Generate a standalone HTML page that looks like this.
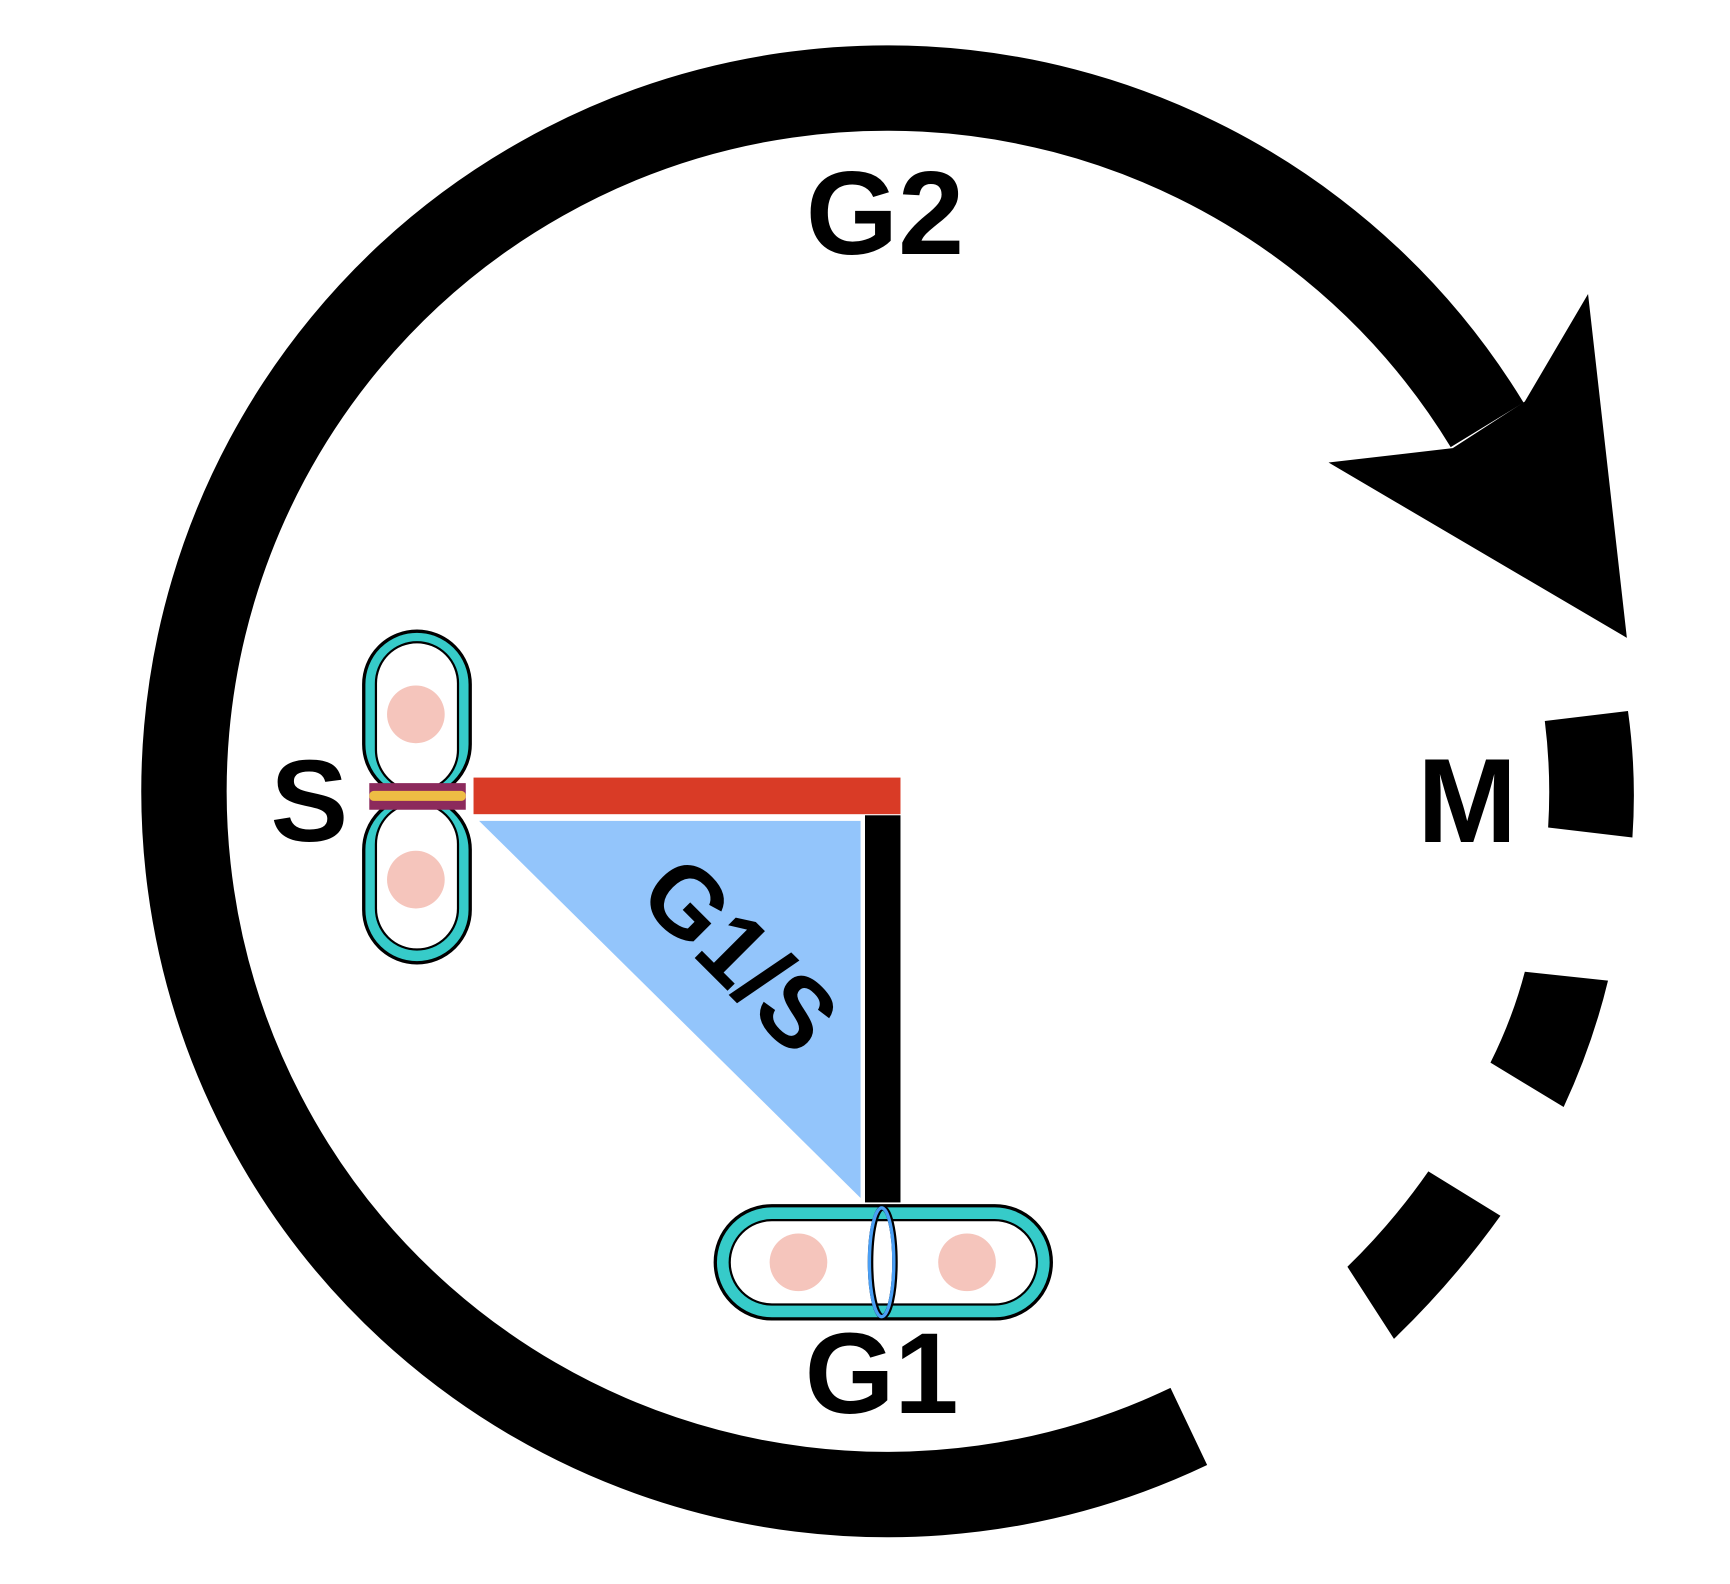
<!DOCTYPE html>
<html><head><meta charset="utf-8"><style>
html,body{margin:0;padding:0;background:#fff;}
svg{display:block;}
text{font-family:"Liberation Sans",sans-serif;font-weight:bold;fill:#000;}
</style></head><body>
<svg width="1730" height="1584" viewBox="0 0 1560 1428" preserveAspectRatio="none" xmlns="http://www.w3.org/2000/svg">
<rect width="1560" height="1428" fill="#fff"/>
<path d="M1072,1286 A634,634 0 1 1 1341,383" fill="none" stroke="#000" stroke-width="77"/>
<polygon points="1198,417 1310,404 1375,362 1432,265 1467,575" fill="#000"/>
<path d="M1393,650 L1468,641 Q1476,698 1472,755 L1396,746 Q1399,698 1393,650 Z" fill="#000"/>
<path d="M1375,876 L1450,884 Q1436,942 1410,998 L1344,958 Q1364,918 1375,876 Z" fill="#000"/>
<path d="M1288,1056 L1353,1096 Q1310,1156 1257,1207 L1215,1142 Q1256,1102 1288,1056 Z" fill="#000"/>
<text x="798" y="229" font-size="107" text-anchor="middle">G2</text>
<text x="795" y="1274" font-size="104" text-anchor="middle">G1</text>
<text x="1323" y="759" font-size="108" text-anchor="middle">M</text>
<text x="279" y="758" font-size="105" text-anchor="middle">S</text>
<polygon points="432,740 776,740 776,1080" fill="#93c5fb"/>
<rect x="427" y="701" width="385" height="33" fill="#d93b26"/>
<rect x="780" y="735" width="32" height="349" fill="#000"/>
<text x="0" y="0" font-size="90" text-anchor="middle" transform="translate(668,860) rotate(45) translate(0,32)">G1/S</text>
<g>
<rect x="328" y="569" width="96" height="150" rx="48" fill="#36cbc9" stroke="#000" stroke-width="3"/>
<rect x="339" y="579" width="74" height="134" rx="37" fill="#fff" stroke="#000" stroke-width="2"/>
<rect x="328" y="718" width="96" height="150" rx="48" fill="#36cbc9" stroke="#000" stroke-width="3"/>
<rect x="339" y="724" width="74" height="132" rx="37" fill="#fff" stroke="#000" stroke-width="2"/>
<circle cx="375" cy="644" r="26" fill="#f5c5bc"/>
<circle cx="375" cy="793" r="26" fill="#f5c5bc"/>
<rect x="333" y="706" width="87" height="24" fill="#8c2a5c"/>
<rect x="333" y="713" width="87" height="9" rx="4" fill="#eebd44"/>
</g>
<g>
<rect x="645" y="1087" width="303" height="102" rx="51" fill="#36cbc9" stroke="#000" stroke-width="3"/>
<rect x="658" y="1100" width="277" height="76" rx="38" fill="#fff" stroke="#000" stroke-width="2"/>
<circle cx="720" cy="1138" r="26" fill="#f5c5bc"/>
<circle cx="872" cy="1138" r="26" fill="#f5c5bc"/>
<ellipse cx="796" cy="1138" rx="11" ry="49" fill="none" stroke="#000" stroke-width="5"/>
<ellipse cx="795" cy="1138" rx="11" ry="49" fill="none" stroke="#4a9ff5" stroke-width="3"/>
</g>
</svg>
</body></html>
